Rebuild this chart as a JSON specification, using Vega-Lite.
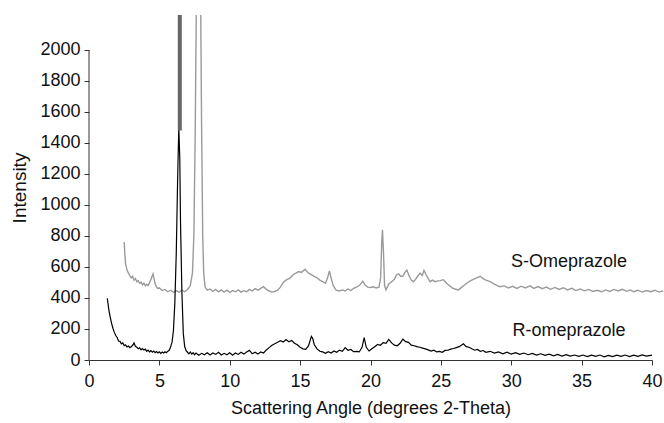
{
  "$schema": "https://vega.github.io/schema/vega-lite/v6.json",
  "width": 563,
  "height": 345,
  "autosize": {"type": "none"},
  "padding": {"left": 89, "top": 15, "right": 12, "bottom": 63},
  "background": "white",
  "config": {
    "view": {"stroke": null},
    "font": "Liberation Sans",
    "axis": {
      "labelFont": "Liberation Sans",
      "titleFont": "Liberation Sans",
      "labelColor": "#111",
      "titleColor": "#111",
      "tickColor": "#333",
      "domainColor": "#333",
      "grid": false,
      "titleFontWeight": "normal",
      "labelOverlap": false
    }
  },
  "datasets": {
    "R": [
      {"x":1.3,"y":398},{"x":1.4,"y":330},{"x":1.5,"y":280},{"x":1.6,"y":238},{"x":1.7,"y":205},{"x":1.8,"y":178},{"x":1.9,"y":158},{"x":2.0,"y":145},{"x":2.1,"y":122},{"x":2.2,"y":120},{"x":2.3,"y":104},{"x":2.4,"y":110},{"x":2.5,"y":92},{"x":2.6,"y":98},{"x":2.7,"y":84},{"x":2.8,"y":90},{"x":2.9,"y":80},{"x":3.0,"y":86},{"x":3.1,"y":95},{"x":3.2,"y":110},{"x":3.3,"y":88},{"x":3.4,"y":82},{"x":3.5,"y":72},{"x":3.6,"y":78},{"x":3.7,"y":66},{"x":3.8,"y":74},{"x":3.9,"y":64},{"x":4.0,"y":70},{"x":4.1,"y":56},{"x":4.2,"y":64},{"x":4.3,"y":52},{"x":4.4,"y":60},{"x":4.5,"y":50},{"x":4.6,"y":58},{"x":4.7,"y":47},{"x":4.8,"y":55},{"x":4.9,"y":45},{"x":5.0,"y":53},{"x":5.1,"y":43},{"x":5.2,"y":51},{"x":5.3,"y":45},{"x":5.4,"y":53},{"x":5.5,"y":47},{"x":5.6,"y":57},{"x":5.7,"y":63},{"x":5.8,"y":85},{"x":5.9,"y":115},{"x":6.0,"y":190},{"x":6.1,"y":370},{"x":6.2,"y":690},{"x":6.3,"y":1180},{"x":6.38,"y":1500},{"x":6.45,"y":1300},{"x":6.5,"y":900},{"x":6.6,"y":440},{"x":6.7,"y":170},{"x":6.8,"y":85},{"x":6.9,"y":60},{"x":7.0,"y":50},{"x":7.1,"y":40},{"x":7.2,"y":52},{"x":7.3,"y":38},{"x":7.4,"y":47},{"x":7.5,"y":34},{"x":7.6,"y":45},{"x":7.8,"y":31},{"x":8.0,"y":43},{"x":8.2,"y":34},{"x":8.4,"y":47},{"x":8.6,"y":32},{"x":8.8,"y":45},{"x":9.0,"y":36},{"x":9.2,"y":50},{"x":9.4,"y":32},{"x":9.6,"y":43},{"x":9.8,"y":34},{"x":10.0,"y":47},{"x":10.2,"y":31},{"x":10.4,"y":45},{"x":10.6,"y":36},{"x":10.8,"y":50},{"x":11.0,"y":38},{"x":11.2,"y":52},{"x":11.4,"y":62},{"x":11.6,"y":40},{"x":11.8,"y":50},{"x":12.0,"y":38},{"x":12.2,"y":52},{"x":12.4,"y":45},{"x":12.6,"y":65},{"x":12.8,"y":80},{"x":13.0,"y":95},{"x":13.2,"y":105},{"x":13.4,"y":114},{"x":13.6,"y":124},{"x":13.8,"y":116},{"x":14.0,"y":132},{"x":14.2,"y":118},{"x":14.4,"y":126},{"x":14.6,"y":108},{"x":14.8,"y":98},{"x":15.0,"y":82},{"x":15.2,"y":72},{"x":15.4,"y":68},{"x":15.6,"y":92},{"x":15.8,"y":152},{"x":15.9,"y":138},{"x":16.0,"y":100},{"x":16.2,"y":72},{"x":16.4,"y":56},{"x":16.6,"y":52},{"x":16.8,"y":43},{"x":17.0,"y":54},{"x":17.2,"y":45},{"x":17.4,"y":58},{"x":17.6,"y":50},{"x":17.8,"y":64},{"x":18.0,"y":56},{"x":18.2,"y":80},{"x":18.4,"y":63},{"x":18.6,"y":68},{"x":18.8,"y":54},{"x":19.0,"y":56},{"x":19.2,"y":52},{"x":19.4,"y":82},{"x":19.55,"y":145},{"x":19.7,"y":82},{"x":19.9,"y":58},{"x":20.1,"y":72},{"x":20.3,"y":86},{"x":20.5,"y":100},{"x":20.7,"y":95},{"x":20.9,"y":112},{"x":21.1,"y":108},{"x":21.3,"y":133},{"x":21.5,"y":110},{"x":21.7,"y":96},{"x":21.9,"y":92},{"x":22.1,"y":108},{"x":22.3,"y":135},{"x":22.5,"y":118},{"x":22.7,"y":114},{"x":22.9,"y":96},{"x":23.1,"y":92},{"x":23.3,"y":86},{"x":23.5,"y":82},{"x":23.7,"y":77},{"x":23.9,"y":72},{"x":24.1,"y":65},{"x":24.3,"y":58},{"x":24.5,"y":63},{"x":24.7,"y":52},{"x":24.9,"y":56},{"x":25.1,"y":50},{"x":25.3,"y":62},{"x":25.5,"y":63},{"x":25.7,"y":70},{"x":25.9,"y":74},{"x":26.1,"y":80},{"x":26.3,"y":86},{"x":26.6,"y":105},{"x":26.8,"y":86},{"x":27.0,"y":82},{"x":27.2,"y":72},{"x":27.4,"y":63},{"x":27.6,"y":68},{"x":27.8,"y":56},{"x":28.0,"y":61},{"x":28.2,"y":50},{"x":28.5,"y":56},{"x":28.8,"y":45},{"x":29.1,"y":52},{"x":29.4,"y":40},{"x":29.7,"y":50},{"x":30.0,"y":38},{"x":30.3,"y":47},{"x":30.6,"y":36},{"x":30.9,"y":45},{"x":31.2,"y":34},{"x":31.5,"y":43},{"x":31.8,"y":32},{"x":32.1,"y":40},{"x":32.4,"y":30},{"x":32.7,"y":38},{"x":33.0,"y":27},{"x":33.3,"y":36},{"x":33.6,"y":25},{"x":33.9,"y":34},{"x":34.2,"y":25},{"x":34.5,"y":32},{"x":34.8,"y":23},{"x":35.1,"y":32},{"x":35.4,"y":22},{"x":35.7,"y":31},{"x":36.0,"y":23},{"x":36.3,"y":32},{"x":36.6,"y":21},{"x":36.9,"y":30},{"x":37.2,"y":22},{"x":37.5,"y":31},{"x":37.8,"y":23},{"x":38.1,"y":32},{"x":38.4,"y":22},{"x":38.7,"y":31},{"x":39.0,"y":24},{"x":39.3,"y":33},{"x":39.6,"y":25},{"x":40.0,"y":32}
    ],
    "S": [
      {"x":2.5,"y":760},{"x":2.55,"y":680},{"x":2.6,"y":620},{"x":2.7,"y":580},{"x":2.8,"y":560},{"x":2.9,"y":545},{"x":3.0,"y":530},{"x":3.1,"y":540},{"x":3.2,"y":515},{"x":3.3,"y":525},{"x":3.4,"y":505},{"x":3.5,"y":512},{"x":3.6,"y":495},{"x":3.7,"y":502},{"x":3.8,"y":485},{"x":3.9,"y":495},{"x":4.0,"y":478},{"x":4.1,"y":488},{"x":4.2,"y":480},{"x":4.3,"y":500},{"x":4.4,"y":520},{"x":4.55,"y":555},{"x":4.7,"y":490},{"x":4.8,"y":470},{"x":4.9,"y":460},{"x":5.0,"y":465},{"x":5.2,"y":448},{"x":5.4,"y":455},{"x":5.6,"y":440},{"x":5.8,"y":450},{"x":6.0,"y":436},{"x":6.2,"y":448},{"x":6.4,"y":438},{"x":6.6,"y":450},{"x":6.8,"y":440},{"x":7.0,"y":455},{"x":7.2,"y":480},{"x":7.35,"y":560},{"x":7.45,"y":800},{"x":7.55,"y":1500},{"x":7.62,"y":2225},{"x":7.78,"y":null},{"x":7.94,"y":2225},{"x":8.0,"y":1500},{"x":8.08,"y":800},{"x":8.15,"y":560},{"x":8.25,"y":470},{"x":8.4,"y":450},{"x":8.6,"y":458},{"x":8.8,"y":442},{"x":9.0,"y":455},{"x":9.2,"y":440},{"x":9.4,"y":452},{"x":9.6,"y":438},{"x":9.8,"y":450},{"x":10.0,"y":436},{"x":10.2,"y":448},{"x":10.4,"y":440},{"x":10.6,"y":452},{"x":10.8,"y":438},{"x":11.0,"y":447},{"x":11.2,"y":440},{"x":11.4,"y":455},{"x":11.6,"y":445},{"x":11.8,"y":460},{"x":12.0,"y":450},{"x":12.2,"y":462},{"x":12.4,"y":473},{"x":12.6,"y":455},{"x":12.8,"y":445},{"x":13.0,"y":438},{"x":13.2,"y":442},{"x":13.4,"y":450},{"x":13.6,"y":470},{"x":13.8,"y":500},{"x":14.0,"y":515},{"x":14.3,"y":530},{"x":14.5,"y":550},{"x":14.7,"y":560},{"x":14.9,"y":570},{"x":15.1,"y":565},{"x":15.35,"y":585},{"x":15.6,"y":560},{"x":15.8,"y":550},{"x":16.0,"y":540},{"x":16.2,"y":530},{"x":16.4,"y":515},{"x":16.6,"y":505},{"x":16.8,"y":495},{"x":16.95,"y":530},{"x":17.08,"y":575},{"x":17.2,"y":530},{"x":17.35,"y":480},{"x":17.55,"y":450},{"x":17.8,"y":445},{"x":18.0,"y":452},{"x":18.2,"y":445},{"x":18.4,"y":458},{"x":18.6,"y":448},{"x":18.8,"y":462},{"x":19.0,"y":470},{"x":19.2,"y":480},{"x":19.45,"y":508},{"x":19.6,"y":485},{"x":19.8,"y":470},{"x":20.0,"y":468},{"x":20.2,"y":472},{"x":20.4,"y":465},{"x":20.6,"y":470},{"x":20.72,"y":530},{"x":20.8,"y":760},{"x":20.85,"y":840},{"x":20.92,"y":700},{"x":21.0,"y":480},{"x":21.1,"y":452},{"x":21.3,"y":490},{"x":21.5,"y":505},{"x":21.7,"y":520},{"x":21.85,"y":550},{"x":22.0,"y":555},{"x":22.15,"y":540},{"x":22.3,"y":540},{"x":22.45,"y":565},{"x":22.58,"y":580},{"x":22.75,"y":540},{"x":22.9,"y":515},{"x":23.05,"y":505},{"x":23.2,"y":520},{"x":23.35,"y":540},{"x":23.52,"y":560},{"x":23.68,"y":545},{"x":23.8,"y":578},{"x":23.95,"y":550},{"x":24.1,"y":525},{"x":24.24,"y":505},{"x":24.4,"y":515},{"x":24.6,"y":505},{"x":24.8,"y":510},{"x":24.95,"y":512},{"x":25.18,"y":518},{"x":25.4,"y":495},{"x":25.6,"y":480},{"x":25.8,"y":465},{"x":26.0,"y":458},{"x":26.25,"y":452},{"x":26.5,"y":470},{"x":26.7,"y":485},{"x":26.9,"y":500},{"x":27.1,"y":510},{"x":27.3,"y":520},{"x":27.5,"y":528},{"x":27.79,"y":540},{"x":28.0,"y":525},{"x":28.2,"y":515},{"x":28.5,"y":505},{"x":28.8,"y":490},{"x":29.0,"y":480},{"x":29.2,"y":473},{"x":29.5,"y":478},{"x":29.8,"y":465},{"x":30.1,"y":475},{"x":30.4,"y":462},{"x":30.7,"y":476},{"x":31.0,"y":465},{"x":31.34,"y":478},{"x":31.6,"y":462},{"x":31.9,"y":474},{"x":32.2,"y":460},{"x":32.5,"y":470},{"x":32.8,"y":456},{"x":33.1,"y":468},{"x":33.4,"y":455},{"x":33.7,"y":466},{"x":34.0,"y":452},{"x":34.3,"y":462},{"x":34.6,"y":448},{"x":34.9,"y":458},{"x":35.2,"y":446},{"x":35.5,"y":455},{"x":35.8,"y":442},{"x":36.1,"y":450},{"x":36.4,"y":440},{"x":36.7,"y":452},{"x":37.0,"y":442},{"x":37.3,"y":455},{"x":37.6,"y":445},{"x":37.9,"y":456},{"x":38.2,"y":443},{"x":38.45,"y":452},{"x":38.7,"y":440},{"x":39.0,"y":450},{"x":39.3,"y":438},{"x":39.6,"y":448},{"x":39.9,"y":440},{"x":40.2,"y":450},{"x":40.5,"y":438},{"x":40.8,"y":446}
    ],
    "bar": [{"x":6.45,"y":1480,"y2":2225}],
    "labels": [
      {"x":34.1,"y":632,"label":"S-Omeprazole"},
      {"x":34.1,"y":187,"label":"R-omeprazole"}
    ],
    "yaxis": [{"x":0,"y":0,"y2":2000}]
  },
  "encoding": {
    "x": {
      "field": "x", "type": "quantitative",
      "scale": {"domain": [0, 40], "nice": false, "zero": false},
      "axis": {
        "values": [0,5,10,15,20,25,30,35,40],
        "format": "d",
        "labelOverlap": false,
        "title": "Scattering Angle (degrees 2-Theta)",
        "titleFontSize": 18,
        "labelFontSize": 18,
        "tickSize": 5,
        "labelPadding": 7,
        "titlePadding": 9,
        "labelFlush": false
      }
    },
    "y": {
      "field": "y", "type": "quantitative",
      "scale": {"domain": [0, 2225], "nice": false},
      "axis": {
        "values": [0,200,400,600,800,1000,1200,1400,1600,1800,2000],
        "format": "d",
        "labelOverlap": false,
        "domain": false,
        "title": "Intensity",
        "titleFontSize": 19,
        "labelFontSize": 18,
        "tickSize": 5,
        "labelPadding": 4,
        "titlePadding": 10,
        "labelFlush": false
      }
    }
  },
  "layer": [
    {
      "data": {"name": "yaxis"},
      "mark": {"type": "rule", "color": "#333", "strokeWidth": 1},
      "encoding": {"y2": {"field": "y2"}}
    },
    {
      "data": {"name": "S"},
      "mark": {"type": "line", "color": "#9a9a9a", "strokeWidth": 1.4},
      "encoding": {}
    },
    {
      "data": {"name": "R"},
      "mark": {"type": "line", "color": "#000000", "strokeWidth": 1.2},
      "encoding": {}
    },
    {
      "data": {"name": "bar"},
      "mark": {"type": "rule", "color": "#666666", "strokeWidth": 4},
      "encoding": {"y2": {"field": "y2"}}
    },
    {
      "data": {"name": "labels"},
      "mark": {"type": "text", "fontSize": 18, "font": "Liberation Sans", "color": "#111", "align": "center", "baseline": "middle"},
      "encoding": {"text": {"field": "label"}}
    }
  ]
}
